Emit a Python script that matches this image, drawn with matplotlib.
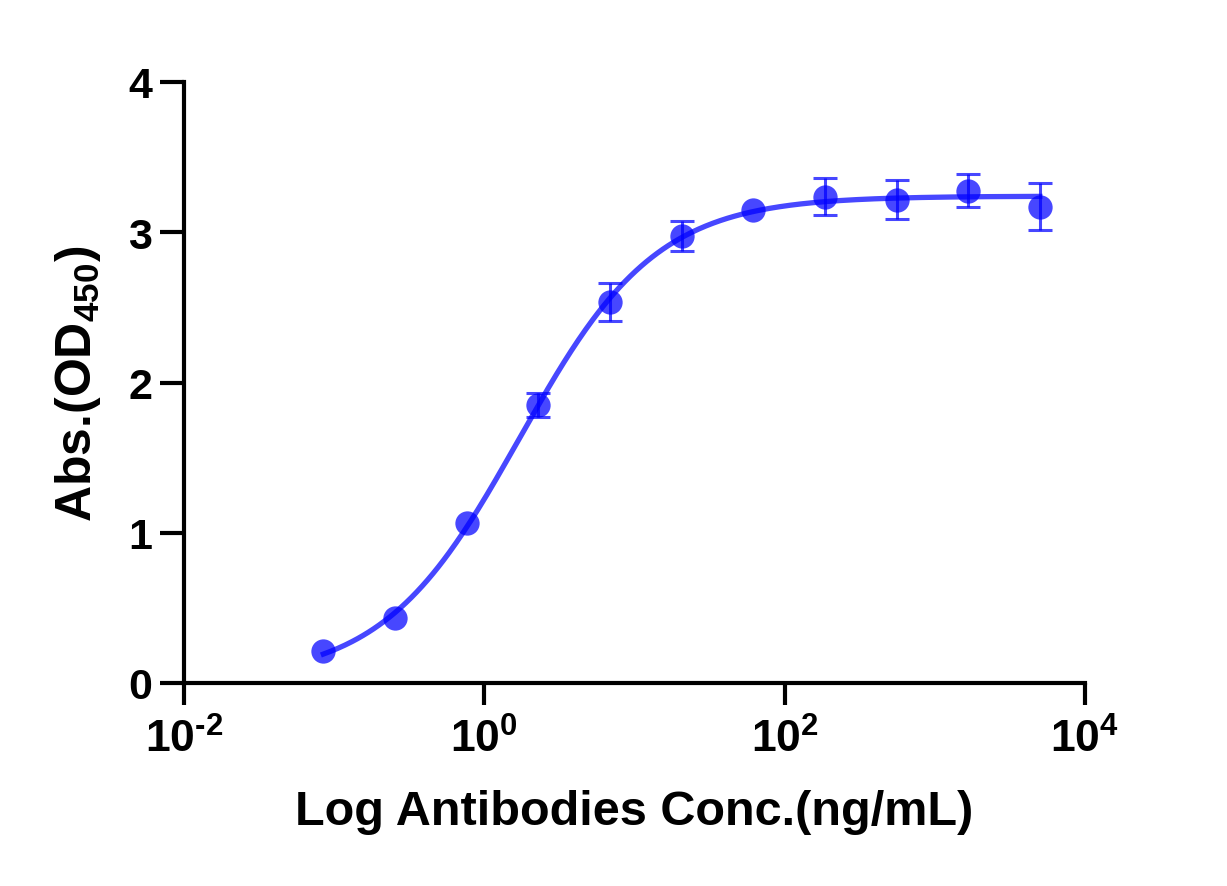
import numpy as np
import matplotlib
matplotlib.use("Agg")
import matplotlib.pyplot as plt
from matplotlib.ticker import FixedLocator, FuncFormatter, NullLocator

plt.rcParams['font.family'] = ['Liberation Sans', 'DejaVu Sans']
plt.rcParams['font.weight'] = 'bold'
plt.rcParams['mathtext.fontset'] = 'custom'
plt.rcParams['mathtext.rm'] = 'Liberation Sans:bold'
plt.rcParams['mathtext.it'] = 'Liberation Sans:bold'
plt.rcParams['mathtext.bf'] = 'Liberation Sans:bold'
plt.rcParams['axes.unicode_minus'] = False

# Data (3-fold dilution series, ng/mL)
conc = [0.0847, 0.254, 0.762, 2.29, 6.86, 20.6, 61.7, 185.2, 555.6, 1666.7, 5000.0]
od450 = [0.21, 0.43, 1.065, 1.852, 2.534, 2.977, 3.148, 3.237, 3.217, 3.277, 3.170]
# error bars hidden behind the symbol are given as 0
od_err = [0.0, 0.0, 0.0, 0.08, 0.125, 0.10, 0.0, 0.125, 0.13, 0.11, 0.155]

x_ticks = [1e-2, 1e0, 1e2, 1e4]
y_ticks = [0, 1, 2, 3, 4]

x = np.array(conc)
y = np.array(od450)
e = np.array(od_err)
lx = np.log10(x)


def four_pl(p, lx):
    bottom, top, logec50, hill = p
    return bottom + (top - bottom) / (1.0 + 10.0 ** ((logec50 - lx) * hill))


# Simple Levenberg-Marquardt 4PL fit
p = np.array([0.0, 3.25, 0.3, 1.0])
lam = 1e-3
for _ in range(500):
    r = y - four_pl(p, lx)
    J = np.zeros((len(lx), 4))
    for k in range(4):
        dp = np.zeros(4)
        dp[k] = 1e-6
        J[:, k] = (four_pl(p + dp, lx) - four_pl(p - dp, lx)) / 2e-6
    A = J.T @ J
    g = J.T @ r
    step = np.linalg.solve(A + lam * np.diag(np.diag(A)), g)
    pn = p + step
    if np.sum((y - four_pl(pn, lx)) ** 2) < np.sum(r ** 2):
        p = pn
        lam *= 0.5
    else:
        lam *= 4

xf = np.logspace(lx.min(), lx.max(), 400)
yf = four_pl(p, np.log10(xf))


def log_label(v, pos):
    ex = int(round(np.log10(v)))
    s = str(abs(ex))
    if ex < 0:
        s = '\u2010' + s
    return r'$\mathregular{10^{' + s + '}}$'


fig = plt.figure(figsize=(12.27, 8.87), dpi=100)
ax = fig.add_axes([184 / 1227, 1 - 684 / 887, (1085 - 184) / 1227, (684 - 83) / 887])

blue = '#0000FF'
ax.plot(xf, yf, color=blue, alpha=0.72, lw=3.8, zorder=2)
m = e > 0
ax.errorbar(x[m], y[m], yerr=e[m], fmt='none', ecolor=blue, alpha=0.72,
            elinewidth=2.2, capsize=8.5, capthick=2.2, zorder=3)
ax.plot(x, y, 'o', color=blue, alpha=0.72, ms=17.5, mec='none', zorder=4)

ax.set_xscale('log')
ax.set_xlim(1e-2, 1e4)
ax.set_ylim(0, 4)
ax.xaxis.set_major_locator(FixedLocator(x_ticks))
ax.xaxis.set_major_formatter(FuncFormatter(log_label))
ax.xaxis.set_minor_locator(NullLocator())
ax.set_yticks(y_ticks)

for s in ['top', 'right']:
    ax.spines[s].set_visible(False)
for s in ['left', 'bottom']:
    ax.spines[s].set_linewidth(3)
ax.tick_params(axis='both', width=3, direction='out')
ax.tick_params(axis='y', length=17, labelsize=31, pad=6)
ax.tick_params(axis='x', length=16, labelsize=32, pad=9)

ax.set_xlabel('Log Antibodies Conc.(ng/mL)', fontsize=35, fontweight='bold', labelpad=20)
ax.set_ylabel('Abs.(OD$_{450}$)', fontsize=36, fontweight='bold', labelpad=18)

fig.savefig('out.png', dpi=100)
